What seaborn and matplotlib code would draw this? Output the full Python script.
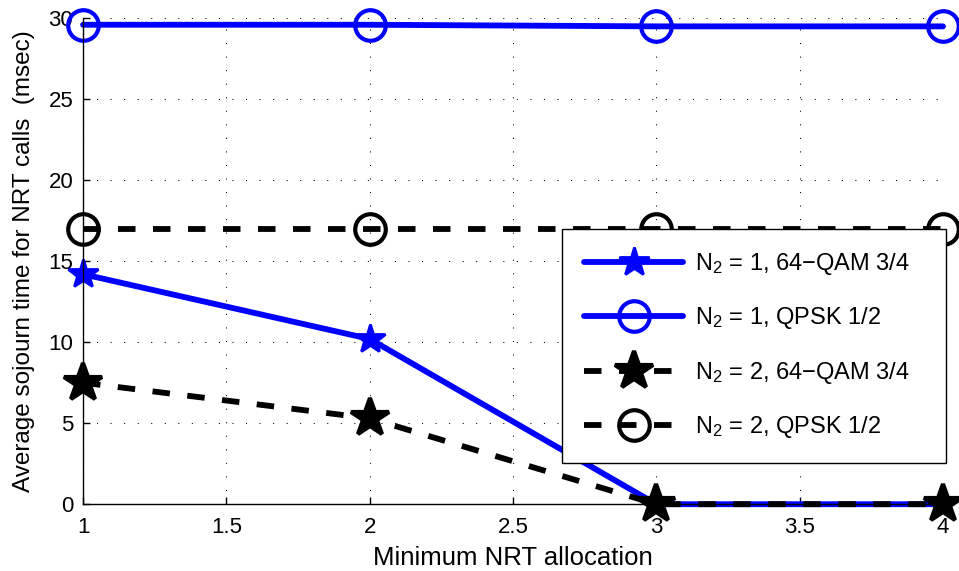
import seaborn as sns
import matplotlib.pyplot as plt

# data
min_alloc = [1, 2, 3, 4]
n1_qam = [14.2, 10.2, 0.0, 0.0]
n1_qpsk = [29.6, 29.6, 29.5, 29.5]
n2_qam = [7.5, 5.3, 0.0, 0.0]
n2_qpsk = [17.0, 17.0, 17.0, 17.0]

labels = [r"$\mathregular{N_2}$ = 1, 64$-$QAM 3/4   ",
          r"$\mathregular{N_2}$ = 1, QPSK 1/2",
          r"$\mathregular{N_2}$ = 2, 64$-$QAM 3/4   ",
          r"$\mathregular{N_2}$ = 2, QPSK 1/2"]

sns.set_style("ticks", {'text.color': 'black', 'axes.labelcolor': 'black',
                        'xtick.color': 'black', 'ytick.color': 'black',
                        'axes.edgecolor': 'black'})
plt.rcParams['font.family'] = ['Liberation Sans', 'DejaVu Sans']
plt.rcParams['mathtext.fontset'] = 'custom'
plt.rcParams['mathtext.rm'] = 'Liberation Sans'
plt.rcParams['mathtext.it'] = 'Liberation Sans'

fig = plt.figure(figsize=(9.59, 5.71), dpi=100)
ax = fig.add_axes([0.0866, 0.117, 0.8967, 0.851])

lw = 4.2
dash = (0, (3.0, 3.0))
series = [
    (n1_qam, 'blue', '*', '-', 'blue', 22, 2, labels[0]),
    (n1_qpsk, 'blue', 'o', '-', 'none', 22, 3, labels[1]),
    (n2_qam, 'black', '*', dash, 'black', 29, 3, labels[2]),
    (n2_qpsk, 'black', 'o', dash, 'none', 22, 3, labels[3]),
]
for vals, col, mk, ls, mfc, ms, mew, lab in series:
    sns.lineplot(x=min_alloc, y=vals, ax=ax, color=col, marker=mk,
                 linestyle=ls, linewidth=lw, markersize=ms,
                 markerfacecolor=mfc, markeredgecolor=col, markeredgewidth=mew,
                 label=lab, clip_on=False)

ax.set_xlim(1, 4)
ax.set_ylim(0, 30)
ax.set_xticks([1, 1.5, 2, 2.5, 3, 3.5, 4])
ax.set_xticklabels(['1', '1.5', '2', '2.5', '3', '3.5', '4'])
ax.set_yticks([0, 5, 10, 15, 20, 25, 30])
ax.grid(True, linestyle=(0, (1, 12)), color='black', linewidth=0.75)
ax.tick_params(direction='in', labelsize=16, length=5, width=1,
               colors='black')
ax.tick_params(axis='x', pad=9)
ax.tick_params(axis='y', pad=7)
sns.despine(ax=ax)
for s in ['left', 'bottom']:
    ax.spines[s].set_linewidth(1)
    ax.spines[s].set_color('black')

ax.set_xlabel("Minimum NRT allocation", fontsize=18.5, labelpad=6)
ax.set_ylabel("Average sojourn time for NRT calls  (msec)", fontsize=17.5,
              labelpad=10)

leg = ax.legend(loc='upper right', bbox_to_anchor=(1.004, 0.567), fontsize=17,
                handlelength=4.2, handletextpad=0.5, borderpad=0.95,
                labelspacing=1.2, borderaxespad=0,
                fancybox=False, edgecolor='black', framealpha=1)
leg.get_frame().set_linewidth(1)

plt.savefig("out.png", dpi=100, facecolor='white')
